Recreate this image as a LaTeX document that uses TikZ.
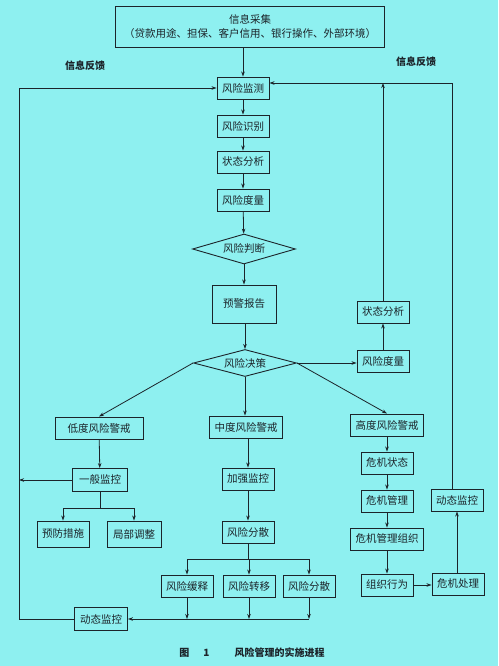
\documentclass[tikz,border=0pt]{standalone}
\usepackage{fontspec}
\setmainfont{Noto Sans CJK SC}
\usepackage{xcolor}
\usetikzlibrary{shapes.geometric, arrows.meta, positioning}
\definecolor{scanbg}{RGB}{142, 240, 240}
\definecolor{inkgray}{RGB}{28, 36, 42}

\begin{document}
\begin{tikzpicture}[
    x=1pt, y=-1pt,
    box/.style={draw=inkgray, line width=0.9pt, minimum width=52pt, minimum height=22pt,
                inner xsep=5pt, inner ysep=2pt, align=center, text=inkgray,
                font=\fontsize{10.5}{14}\selectfont},
    judgebox/.style={diamond, aspect=3.5, draw=inkgray, line width=0.9pt, minimum width=103pt,
                minimum height=29pt, inner sep=0pt, text=inkgray, font=\fontsize{10.5}{12}\selectfont},
    arr/.style={draw=inkgray, line width=0.8pt, -{Stealth[length=5pt, width=3.5pt]}},
    link/.style={draw=inkgray, line width=0.8pt},
    note/.style={text=inkgray, font=\fontsize{10}{12}\selectfont\bfseries}
]
    \fill[scanbg] (0,0) rectangle (498,666);
    \useasboundingbox (0,0) rectangle (498,666);

    % Information collection
    \node[box, minimum width=269pt, minimum height=41pt] (info) at (250,27)
        {信息采集\\（贷款用途、担保、客户信用、银行操作、外部环境）};
    \node[note] (fbleft) at (85,66) {信息反馈};
    \node[note] (fbright) at (416,62) {信息反馈};

    % Main column
    \node[box] (monitor) at (243,88) {风险监测};
    \node[box] (ident) at (243,126) {风险识别};
    \node[box] (state) at (243,162) {状态分析};
    \node[box] (measure) at (243,200) {风险度量};
    \node[judgebox, minimum height=30pt] (judge) at (244,249) {风险判断};
    \node[box, minimum width=64pt, minimum height=38pt] (report) at (244,304) {预警报告};
    \node[judgebox, minimum height=27pt] (decide) at (245,363) {风险决策};

    % Warning levels
    \node[box, minimum width=88pt] (low) at (99,428) {低度风险警戒};
    \node[box, minimum width=67pt] (mid) at (246,427) {中度风险警戒};
    \node[box, minimum width=69pt] (high) at (387,425) {高度风险警戒};

    % Low branch
    \node[box, minimum width=55pt, minimum height=23pt] (general) at (100,480) {一般监控};
    \node[box, minimum width=50pt, minimum height=26pt] (prevent) at (63,534) {预防措施};
    \node[box, minimum width=54pt, minimum height=26pt] (adjust) at (134,534) {局部调整};
    \node[box, minimum width=53pt, minimum height=23pt] (dynleft) at (101,619) {动态监控};

    % Middle branch
    \node[box] (strong) at (248,479) {加强监控};
    \node[box] (spread) at (248,532) {风险分散};
    \node[box] (ease) at (187,586) {风险缓释};
    \node[box] (transfer) at (249,586) {风险转移};
    \node[box] (spreadb) at (309,586) {风险分散};

    % High branch
    \node[box] (cstate) at (387,463) {危机状态};
    \node[box] (cmanage) at (387,501) {危机管理};
    \node[box, minimum width=70pt] (corg) at (387,539) {危机管理组织};
    \node[box] (behave) at (387,585) {组织行为};
    \node[box] (handle) at (458,584) {危机处理};
    \node[box] (dynright) at (457,500) {动态监控};
    \node[box] (rstate) at (383,312) {状态分析};
    \node[box] (rmeasure) at (383,361) {风险度量};

    \coordinate (loopleft) at (19,88);
    \coordinate (loopright) at (452,83);
    \coordinate (lowsplit) at (0,508);
    \coordinate (midsplit) at (0,559);
    \coordinate (bottom) at (0,619);

    % Main flow
    \draw[arr] (info.south -| monitor) -- (monitor);
    \draw[arr] (monitor) -- (ident);
    \draw[arr] (ident) -- (state);
    \draw[arr] (state) -- (measure);
    \draw[arr] (measure) -- (judge);
    \draw[arr] (judge.south) -- (report.north -| judge.south);
    \draw[arr] (report.south -| decide.north) -- (decide.north);
    \draw[arr] (decide.west) -- (low.north);
    \draw[arr] (decide.south) -- (mid.north -| decide.south);
    \draw[arr] (decide.east) -- (high.north);
    \draw[arr] (decide.east) -- (decide.east -| rmeasure.west);
    \draw[arr] (rmeasure) -- (rstate);
    \draw[arr] (rstate.north) -- (rstate.north |- loopright);

    % Low branch
    \draw[arr] (low) -- (general);
    \draw[arr] (general.west) -- (general.west -| loopleft);
    \draw[link] (general.south) -- (general.south |- lowsplit);
    \draw[link] (prevent.north |- lowsplit) -- (adjust.north |- lowsplit);
    \draw[arr] (prevent.north |- lowsplit) -- (prevent.north);
    \draw[arr] (adjust.north |- lowsplit) -- (adjust.north);

    % Middle branch
    \draw[arr] (mid.south -| strong) -- (strong);
    \draw[arr] (strong) -- (spread);
    \draw[link] (spread.south) -- (spread.south |- midsplit);
    \draw[link] (ease.north |- midsplit) -- (spreadb.north |- midsplit);
    \foreach \n in {ease, transfer, spreadb}{
        \draw[arr] (\n.north |- midsplit) -- (\n.north);
        \draw[arr] (\n.south) -- (\n.south |- bottom);
    }
    \draw[arr] (spreadb.south |- bottom) -- (dynleft.east);

    % High branch
    \draw[arr] (high) -- (cstate);
    \draw[arr] (cstate) -- (cmanage);
    \draw[arr] (cmanage) -- (corg);
    \draw[arr] (corg) -- (behave);
    \draw[arr] (behave) -- (handle.west |- behave);
    \draw[arr] (handle.north -| dynright) -- (dynright);

    % Feedback loops
    \draw[arr] (dynleft.west) -| (loopleft) -- (monitor.west);
    \draw[arr] (dynright.north -| loopright) -- (loopright) -- (loopright -| monitor.east);

    % Caption
    \node[note] (caption) at (252,653) {图\hspace{14pt}1\hspace{25pt}风险管理的实施进程};
\end{tikzpicture}
\end{document}
